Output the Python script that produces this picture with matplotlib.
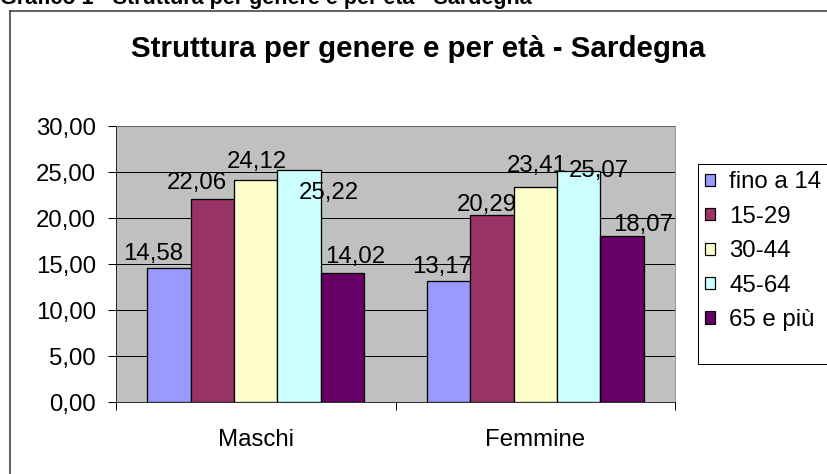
import matplotlib
matplotlib.use("Agg")
import matplotlib.pyplot as plt
import numpy as np
from matplotlib.lines import Line2D
from matplotlib.patches import Rectangle

plt.rcParams['font.family'] = ['Liberation Sans', 'DejaVu Sans']

# data
genders = ['Maschi', 'Femmine']
age_groups = ['fino a 14', '15-29', '30-44', '45-64', '65 e più']
maschi = [14.58, 22.06, 24.12, 25.22, 14.02]
femmine = [13.17, 20.29, 23.41, 25.07, 18.07]
colors = ['#9999FF', '#993366', '#FFFFCC', '#CCFFFF', '#660066']

# label nudges (px) the way Excel spread them out to avoid overlaps
label_shift = [[(-16, 8), (-16, 10), (1, 12), (30, -29), (13, 10)],
               [(-6, 8), (-5, 4), (1, 15), (20, -6), (21, 5)]]

W, H = 827, 474
fig = plt.figure(figsize=(W / 72, H / 72), dpi=72)
ax = fig.add_axes([116 / W, (H - 402) / H, (675 - 116) / W, (402 - 126) / H])
ax.set_facecolor('#C0C0C0')

values = np.array([maschi, femmine])
x = np.arange(len(genders))
bw = 0.155
for i, age in enumerate(age_groups):
    bars = ax.bar(x + (i - 2) * bw, values[:, i], bw, color=colors[i],
                  edgecolor='black', linewidth=1.3, label=age, zorder=3)
    for j, b in enumerate(bars):
        dx, dy = label_shift[j][i]
        ax.annotate(f'{values[j, i]:.2f}'.replace('.', ','),
                    (b.get_x() + b.get_width() / 2, b.get_height()),
                    xytext=(dx, dy), textcoords='offset points',
                    ha='center', va='baseline', fontsize=24, zorder=4)

ax.set_ylim(0, 30)
ax.set_xlim(-0.5, 1.5)
yt = np.arange(0, 31, 5)
ax.set_yticks(yt)
ax.set_yticklabels([f'{v:.2f}'.replace('.', ',') for v in yt], fontsize=24)
ax.yaxis.grid(True, color='black', linewidth=1)
ax.set_axisbelow(True)
ax.tick_params(axis='y', length=8, width=1, pad=12, color='black')

ax.set_xticks(x)
ax.set_xticklabels(genders, fontsize=24)
ax.set_xticks([-0.5, 0.5, 1.5], minor=True)
ax.tick_params(axis='x', which='major', length=0, pad=27)
ax.tick_params(axis='x', which='minor', length=8, width=1, color='black')

for s in ['top', 'right']:
    ax.spines[s].set_color('#808080')
for s in ['left', 'bottom']:
    ax.spines[s].set_color('black')

leg = fig.legend(loc='upper left', bbox_to_anchor=(698 / W, 1 - 164 / H),
                 fontsize=24, handlelength=0.4, handleheight=0.4,
                 handletextpad=0.6, labelspacing=0.52, borderpad=0.3,
                 borderaxespad=0, frameon=False)
for p in leg.get_patches():
    p.set_linewidth(1.2)
# legend box runs past the right edge, like the reference
fig.add_artist(Rectangle((698 / W, 1 - 364 / H), 160 / W, 200 / H,
                         transform=fig.transFigure, facecolor='none',
                         edgecolor='black', linewidth=1, zorder=0))

# chart frame (continues past the right and bottom edges)
fig.add_artist(Line2D([10 / W, 10 / W], [0, 1 - 11 / H], color='#333333', lw=1.5))
fig.add_artist(Line2D([10 / W, 1], [1 - 11 / H, 1 - 11 / H], color='#333333', lw=1.5))

fig.text(418 / W, 1 - 57 / H, 'Struttura per genere e per età - Sardegna',
         ha='center', va='baseline', fontsize=29.5, fontweight='bold')
fig.text(0, 1 - 4 / H, 'Grafico 1 - Struttura per genere e per età - Sardegna',
         ha='left', va='baseline', fontsize=21.5, fontweight='bold')

fig.savefig('out.png', dpi=72)
